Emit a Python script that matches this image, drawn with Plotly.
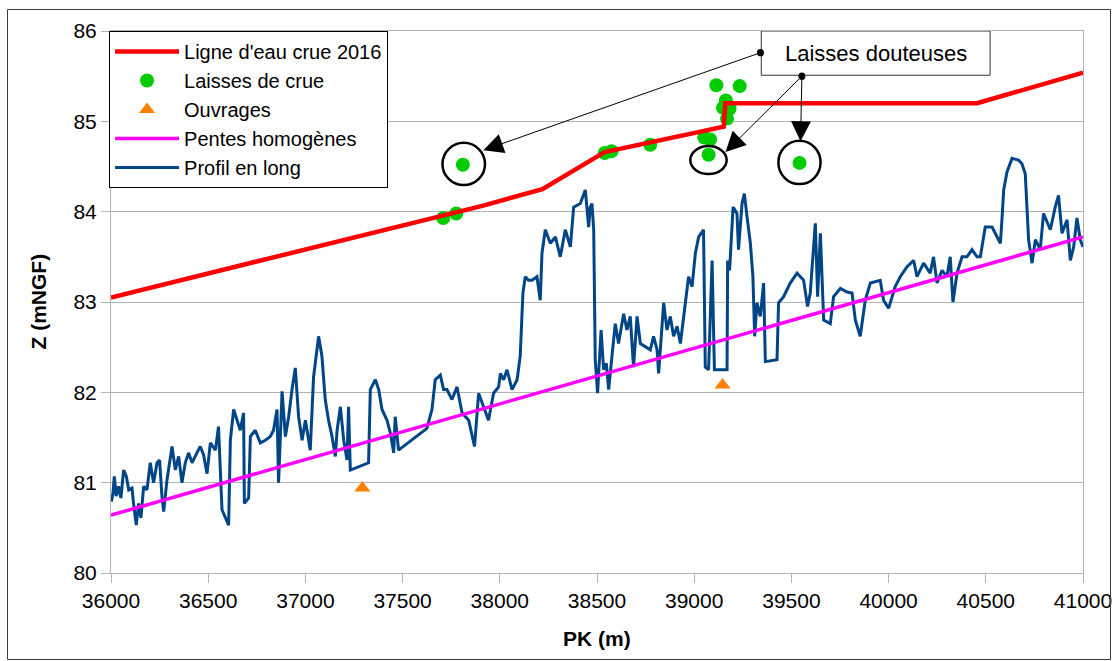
import plotly.graph_objects as go

# --- Ligne d'eau crue 2016 (PK m, Z mNGF)
ligne_pk = [36000, 37920, 38219, 38539, 39152, 39160, 40455, 41000]
ligne_z = [83.05, 84.07, 84.25, 84.66, 84.94, 85.20, 85.20, 85.54]

# --- Laisses de crue
laisses_pk = [37709, 37776, 37810, 38540, 38575, 38774, 39052, 39082, 39074,
              39114, 39234, 39163, 39148, 39182, 39169, 39542]
laisses_z = [83.93, 83.98, 84.52, 84.65, 84.67, 84.74, 84.82, 84.80, 84.63,
             85.40, 85.39, 85.23, 85.15, 85.14, 85.03, 84.54]

# --- Ouvrages
ouvrages_pk = [37293, 39146]
ouvrages_z = [80.94, 82.08]

# --- Pentes homogènes
pente_pk = [36000, 41000]
pente_z = [80.64, 83.72]

# --- Profil en long
profil_pk = [
    36002, 36010, 36017, 36027, 36039, 36051, 36065, 36079, 36091, 36108,
    36116, 36130, 36142, 36154, 36168, 36185, 36202, 36219, 36237, 36250,
    36262, 36271, 36288, 36314, 36331, 36348, 36365, 36382, 36399, 36417,
    36442, 36459, 36476, 36494, 36511, 36537, 36553, 36571, 36605, 36614,
    36631, 36648, 36665, 36682, 36686, 36708, 36717, 36742, 36768, 36794,
    36819, 36836, 36854, 36862, 36880, 36897, 36914, 36931, 36948, 36965,
    36983, 37000, 37025, 37042, 37068, 37085, 37102, 37119, 37137, 37154,
    37163, 37180, 37197, 37214, 37222, 37231, 37325, 37334, 37360, 37377,
    37394, 37420, 37437, 37454, 37462, 37479, 37625, 37651, 37668, 37694,
    37711, 37728, 37754, 37780, 37806, 37840, 37857, 37870, 37891, 37917,
    37942, 37968, 37994, 38003, 38020, 38037, 38063, 38089, 38105, 38119,
    38131, 38148, 38166, 38191, 38208, 38217, 38234, 38260, 38286, 38311,
    38337, 38363, 38380, 38414, 38440, 38457, 38465, 38474, 38483, 38491,
    38503, 38521, 38534, 38548, 38560, 38577, 38594, 38611, 38637, 38654,
    38671, 38688, 38706, 38723, 38748, 38774, 38791, 38809, 38817, 38843,
    38860, 38877, 38894, 38912, 38929, 38954, 38971, 38989, 39006, 39023,
    39048, 39057, 39074, 39092, 39104, 39169, 39172, 39182, 39200, 39220,
    39228, 39246, 39258, 39272, 39289, 39302, 39311, 39323, 39340, 39357,
    39366, 39426, 39434, 39460, 39494, 39529, 39563, 39583, 39597, 39623,
    39635, 39649, 39666, 39700, 39717, 39752, 39786, 39812, 39829, 39854,
    39880, 39906, 39957, 39974, 40000, 40034, 40060, 40095, 40129, 40146,
    40180, 40214, 40231, 40249, 40275, 40300, 40317, 40331, 40352, 40378,
    40403, 40429, 40455, 40472, 40497, 40532, 40575, 40583, 40592, 40609,
    40635, 40669, 40686, 40703, 40712, 40720, 40738, 40755, 40780, 40797,
    40832, 40857, 40874, 40892, 40918, 40935, 40952, 40969, 40986, 41000,
]
profil_z = [
    80.79, 80.88, 81.07, 80.85, 80.96, 80.83, 81.14, 81.07, 80.92, 80.94,
    80.77, 80.53, 80.77, 80.61, 80.96, 80.92, 81.22, 81.00, 81.22, 81.25,
    80.85, 80.68, 81.03, 81.40, 81.14, 81.29, 81.00, 81.22, 81.33, 81.22,
    81.33, 81.40, 81.31, 81.10, 81.44, 81.36, 81.62, 80.70, 80.53, 81.47,
    81.81, 81.69, 81.58, 81.77, 80.77, 80.83, 81.51, 81.58, 81.44, 81.47,
    81.51, 81.58, 81.81, 81.00, 82.01, 81.51, 81.73, 82.03, 82.27, 81.73,
    81.47, 81.69, 81.36, 82.17, 82.62, 82.40, 81.92, 81.69, 81.51, 81.29,
    81.58, 81.84, 81.47, 81.25, 81.84, 81.14, 81.22, 82.03, 82.14, 82.03,
    81.81, 81.69, 81.55, 81.33, 81.73, 81.36, 81.60, 81.81, 82.14, 82.19,
    82.03, 82.03, 81.92, 82.06, 81.77, 81.69, 81.51, 81.40, 81.99, 81.84,
    81.69, 81.99, 82.06, 82.21, 82.14, 82.25, 82.03, 82.14, 82.40, 83.10,
    83.28, 83.24, 83.24, 83.28, 83.02, 83.54, 83.80, 83.65, 83.72, 83.50,
    83.80, 83.61, 84.05, 84.09, 84.24, 83.83, 84.05, 84.09, 83.80, 82.36,
    81.99, 82.69, 82.25, 82.32, 82.03, 82.40, 82.76, 82.54, 82.87, 82.69,
    82.84, 82.28, 82.84, 82.54, 82.51, 82.47, 82.62, 82.47, 82.21, 82.99,
    82.69, 82.84, 82.62, 82.73, 82.54, 82.95, 83.28, 83.17, 83.54, 83.72,
    83.80, 82.28, 82.25, 83.46, 82.25, 82.25, 83.46, 83.35, 84.05, 83.98,
    83.58, 84.09, 84.20, 83.94, 83.65, 83.28, 82.62, 82.99, 82.84, 83.21,
    82.34, 82.36, 82.99, 83.06, 83.21, 83.32, 83.24, 82.95, 83.10, 83.87,
    83.06, 83.76, 82.80, 82.76, 83.06, 83.15, 83.11, 83.10, 82.80, 82.62,
    83.02, 83.21, 83.24, 83.02, 82.93, 83.17, 83.28, 83.39, 83.46, 83.28,
    83.43, 83.32, 83.50, 83.21, 83.35, 83.28, 83.50, 83.00, 83.32, 83.50,
    83.50, 83.58, 83.50, 83.50, 83.83, 83.83, 83.65, 83.91, 84.24, 84.44,
    84.59, 84.57, 84.53, 84.42, 84.05, 83.69, 83.43, 83.69, 83.58, 83.98,
    83.80, 84.05, 84.18, 83.76, 83.91, 83.46, 83.61, 83.93, 83.69, 83.61,
]

x_ticks = [36000, 36500, 37000, 37500, 38000, 38500, 39000, 39500, 40000, 40500, 41000]
y_ticks = [80, 81, 82, 83, 84, 85, 86]

FONT = "Liberation Sans, Arial, sans-serif"
GRID = "#b3b3b3"

fig = go.Figure()

fig.add_trace(go.Scatter(
    x=profil_pk, y=profil_z, mode="lines", name="Profil en long",
    line=dict(color="#004586", width=3), legendrank=5))
fig.add_trace(go.Scatter(
    x=pente_pk, y=pente_z, mode="lines", name="Pentes homogènes",
    line=dict(color="#ff00ff", width=3.5), legendrank=4))
fig.add_trace(go.Scatter(
    x=ouvrages_pk, y=ouvrages_z, mode="markers", name="Ouvrages",
    marker=dict(symbol="triangle-up", color="#ff8000", size=14), legendrank=3))
fig.add_trace(go.Scatter(
    x=laisses_pk, y=laisses_z, mode="markers", name="Laisses de crue",
    marker=dict(symbol="circle", color="#00cc00", size=14), legendrank=2))
fig.add_trace(go.Scatter(
    x=ligne_pk, y=ligne_z, mode="lines", name="Ligne d'eau crue 2016",
    line=dict(color="#ff0000", width=4.5), legendrank=1))

# circles around doubtful high-water marks
shapes = []
for x0, x1, y0, y1 in [(37705, 37924, 84.294, 84.762),
                       (38980, 39167, 84.416, 84.726),
                       (39433, 39650, 84.305, 84.784)]:
    shapes.append(dict(type="circle", xref="x", yref="y", x0=x0, x1=x1, y0=y0, y1=y1,
                       line=dict(color="black", width=2.5)))

# callout box
shapes.append(dict(type="rect", xref="x", yref="y", x0=39345, x1=40522, y0=85.51, y1=86.0,
                   line=dict(color="#333333", width=1), fillcolor="white", layer="above"))
# anchor dots of the callout
for cx, cy in [(39341, 85.76), (39554, 85.50)]:
    shapes.append(dict(type="circle", xref="x", yref="y",
                       x0=cx - 18, x1=cx + 18, y0=cy - 0.04, y1=cy + 0.04,
                       fillcolor="black", line=dict(color="black", width=0)))

# figure frame
shapes.append(dict(type="rect", xref="paper", yref="paper",
                   x0=(7.5 - 111) / 972, x1=(1110.5 - 111) / 972,
                   y0=(573 - 659.5) / 542, y1=(573 - 9.5) / 542,
                   line=dict(color="#3c3c3c", width=1), fillcolor="rgba(0,0,0,0)"))

annotations = [
    dict(x=39933, y=85.755, xref="x", yref="y", text="Laisses douteuses",
         showarrow=False, font=dict(family=FONT, size=22, color="black")),
    dict(x=0.5, y=(573 - 638) / 542, xref="paper", yref="paper", text="<b>PK (m)</b>",
         xanchor="center", yanchor="middle",
         showarrow=False, font=dict(family=FONT, size=21, color="black")),
    dict(x=(37.5 - 111) / 972, y=0.5, xref="paper", yref="paper", text="<b>Z (mNGF)</b>",
         xanchor="center", yanchor="middle",
         textangle=-90, showarrow=False, font=dict(family=FONT, size=21, color="black")),
]
for tx, ty, hx, hy in [(39341, 85.76, 37915, 84.68),
                       (39554, 85.50, 39161, 84.66),
                       (39554, 85.50, 39547, 84.78)]:
    annotations.append(dict(x=hx, y=hy, ax=tx, ay=ty, xref="x", yref="y",
                            axref="x", ayref="y", text="", showarrow=True,
                            arrowhead=2, arrowsize=4, arrowwidth=1, arrowcolor="black"))

fig.update_layout(
    width=1115, height=661,
    margin=dict(l=111, r=32, t=31, b=88, autoexpand=False),
    paper_bgcolor="white", plot_bgcolor="white",
    font=dict(family=FONT, size=21, color="black"),
    showlegend=True,
    legend=dict(x=-0.002, y=1.0, xanchor="left", yanchor="top",
                bgcolor="white", bordercolor="black", borderwidth=1,
                font=dict(family=FONT, size=20, color="black"),
                itemwidth=64, tracegroupgap=0),
    shapes=shapes,
    annotations=annotations,
)
fig.update_xaxes(range=[36000, 41000], tickvals=x_ticks, ticktext=[str(v) for v in x_ticks],
                 showgrid=False, showline=True, linecolor=GRID, linewidth=1, mirror=True,
                 ticks="outside", ticklen=9, tickcolor=GRID, zeroline=False, automargin=False,
                 tickfont=dict(family=FONT, size=21, color="black"))
fig.update_yaxes(range=[80, 86], tickvals=y_ticks, showgrid=True, gridcolor=GRID, gridwidth=1,
                 showline=True, linecolor=GRID, linewidth=1, mirror=True,
                 ticks="outside", ticklen=9, tickcolor=GRID, zeroline=False, automargin=False,
                 tickfont=dict(family=FONT, size=21, color="black"))

fig.write_html("out.html")
